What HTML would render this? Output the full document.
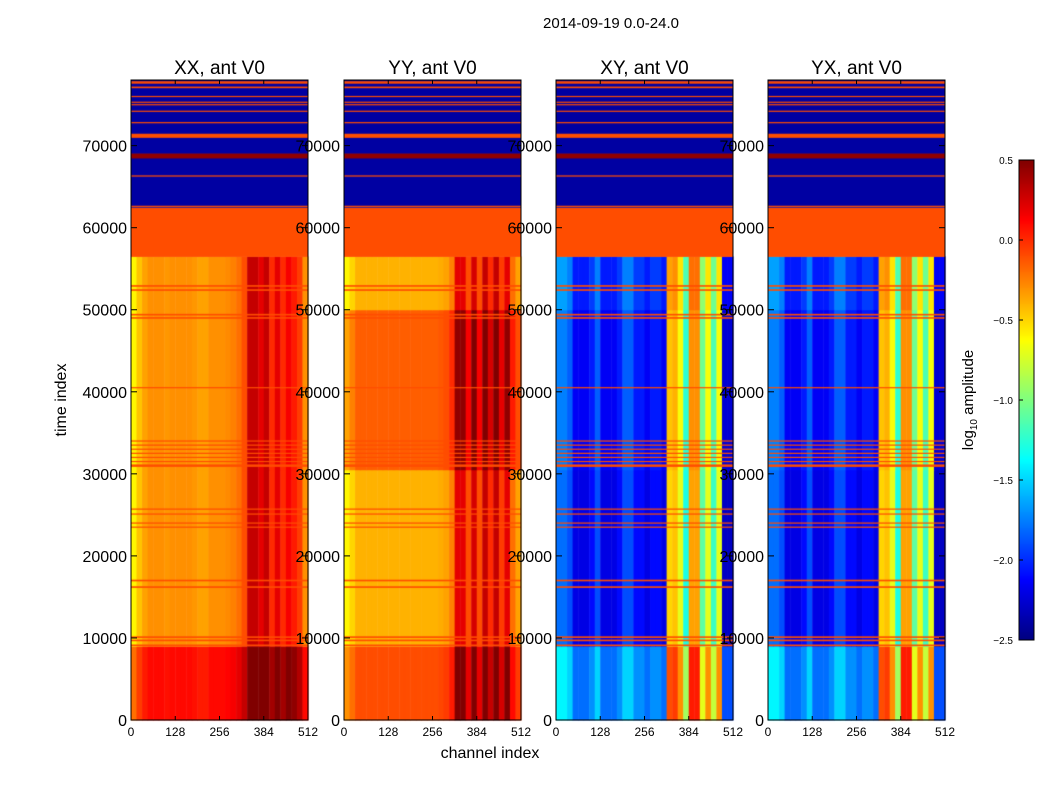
<!DOCTYPE html>
<html><head><meta charset="utf-8"><style>
body{margin:0;background:#fff;width:1050px;height:800px;overflow:hidden;font-family:"Liberation Sans",sans-serif}
#wrap{position:relative;width:1050px;height:800px}
canvas{position:absolute;left:0;top:0}
svg{position:absolute;left:0;top:0}
</style></head><body>
<div id="wrap">
<canvas id="cv" width="1050" height="800"></canvas>
<svg id="sv" width="1050" height="800"></svg>
</div>
<script>
// ---- data ----
const panelTitles = ["XX, ant V0","YY, ant V0","XY, ant V0","YX, ant V0"];
const xTickLabels = [0,128,256,384,512];
const yTickLabels = [0,10000,20000,30000,40000,50000,60000,70000];
const cbTickLabels = [-2.5,-2.0,-1.5,-1.0,-0.5,0.0,0.5];
// channel profiles, 32 bins of 16 channels (log10 amplitude)
const xxProfile = [-0.6,-0.45,-0.35,-0.3,-0.3,-0.3,-0.32,-0.3,-0.3,-0.3,-0.3,-0.32,-0.35,-0.35,-0.3,-0.3,-0.3,-0.28,-0.25,-0.2,-0.1,0.3,0.3,0.2,0.3,0.0,0.2,0.0,0.15,0.05,-0.05,-0.3];
const yyProfile = [-0.6,-0.5,-0.4,-0.4,-0.4,-0.4,-0.4,-0.4,-0.4,-0.4,-0.4,-0.4,-0.4,-0.4,-0.4,-0.4,-0.4,-0.38,-0.35,-0.25,0.2,0.2,-0.1,0.25,-0.1,0.3,0.0,0.3,-0.05,0.2,-0.2,-0.35];
const xyProfile = [-1.8,-1.8,-1.9,-2.2,-2.2,-2.2,-2.1,-1.9,-2.2,-2.2,-2.2,-2.1,-1.9,-1.9,-2.1,-2.1,-2.2,-2.1,-2.1,-2.2,-0.5,-0.45,-0.7,-1.3,-0.35,-0.35,-1.1,-0.7,-1.2,-0.7,-2.3,-2.3];
const yxProfile = [-1.8,-1.8,-1.9,-2.2,-2.2,-2.2,-2.1,-1.9,-2.2,-2.2,-2.2,-2.1,-1.9,-1.9,-2.1,-2.1,-2.2,-2.1,-2.1,-2.2,-0.5,-0.45,-0.7,-1.3,-0.35,-0.35,-1.1,-0.7,-1.2,-0.7,-2.3,-2.3];
// eras in lower (data) region
const eraStart = [0,9000,30500,50000];
const eraEnd = [9000,30500,50000,56500];
const xxEraOffset = [0.4,0,0.0,0];
const yyEraOffset = [0.3,0,0.25,0];
const xyEraOffset = [0.4,0,0.05,0.15];
const yxEraOffset = [0.4,0,0.05,0.15];
// uniform segments in upper region (same for all panels)
const segStart = [56500,62500,68500,69100];
const segEnd = [62500,68500,69100,78000];
const segValue = [-0.1,-2.4,0.45,-2.4];
// flagged rows drawn orange
const lineTime = [77700,77100,76000,75300,75000,74200,72800,71200,66300,62600,52900,52400,49400,49000,40500,34000,33500,33000,32500,32000,31500,31000,25700,25100,24000,23500,17000,16200,10100,9700,9100];
const lineWidth = [300,200,120,120,120,120,150,500,150,150,200,200,200,200,150,150,150,150,150,150,150,300,150,150,150,150,200,200,200,200,200];
const lineValue = -0.1;

const profiles=[xxProfile,yyProfile,xyProfile,yxProfile];
const eraOffsets=[xxEraOffset,yyEraOffset,xyEraOffset,yxEraOffset];
const panelX=[131,344,556,768], panelW=177, yTop=80, yBot=720, tMax=78000, cMax=512;
const yS=t=>yBot-(t/tMax)*(yBot-yTop);
const xS=(p,c)=>panelX[p]+c/cMax*panelW;
function jet(v){let t=(v+2.5)/3;t=Math.max(0,Math.min(1,t));
 const f=x=>Math.max(0,Math.min(1,1.5-Math.abs(4*t-x)));
 return `rgb(${Math.round(255*f(3))},${Math.round(255*f(2))},${Math.round(255*f(1))})`;}
const ctx=document.getElementById('cv').getContext('2d');
for(let p=0;p<4;p++){
 const prof=profiles[p], off=eraOffsets[p];
 for(let e=0;e<eraStart.length;e++){
  for(let b=0;b<prof.length;b++){
   ctx.fillStyle=jet(prof[b]+off[e]);
   const x0=xS(p,b*16),x1=xS(p,(b+1)*16);
   ctx.fillRect(x0,yS(eraEnd[e]),x1-x0+0.5,yS(eraStart[e])-yS(eraEnd[e])+0.5);
  }}
 for(let s=0;s<segStart.length;s++){
  ctx.fillStyle=jet(segValue[s]);
  ctx.fillRect(panelX[p],yS(segEnd[s]),panelW,yS(segStart[s])-yS(segEnd[s])+0.5);
 }
 for(let l=0;l<lineTime.length;l++){
  ctx.fillStyle=jet(lineValue);
  const y0=yS(lineTime[l]+lineWidth[l]/2),y1=yS(lineTime[l]-lineWidth[l]/2);
  ctx.fillRect(panelX[p],y0,panelW,Math.max(1.2,y1-y0));
 }
}
// colorbar
for(let i=0;i<480;i++){ctx.fillStyle=jet(0.5-3*(i+0.5)/480);ctx.fillRect(1019,160+i,15,1);}

const NS="http://www.w3.org/2000/svg", sv=document.getElementById('sv');
function mk(tag,attrs,txt){const e=document.createElementNS(NS,tag);for(const k in attrs)e.setAttribute(k,attrs[k]);if(txt!==undefined)e.textContent=txt;sv.appendChild(e);return e;}
let t=mk('text',{x:611,y:28,'font-size':15,'text-anchor':'middle'},'2014-09-19 0.0-24.0');


for(let p=0;p<4;p++){
 const r=mk('rect',{x:panelX[p],y:yTop,width:panelW,height:yBot-yTop,fill:'none',stroke:'#000','stroke-width':1});
 
 
 const ti=mk('text',{x:panelX[p]+panelW/2,y:74,'font-size':19,'text-anchor':'middle'},panelTitles[p]);
 
 
 xTickLabels.forEach(c=>{const x=xS(p,c);
  mk('line',{x1:x,x2:x,y1:yBot,y2:yBot-4,stroke:'#000'});mk('line',{x1:x,x2:x,y1:yTop,y2:yTop+4,stroke:'#000'});
  const tl=mk('text',{x:x,y:736,'font-size':12,'text-anchor':'middle'},c);
  
  });
 yTickLabels.forEach(v=>{const y=yS(v);
  mk('line',{x1:panelX[p],x2:panelX[p]+6,y1:y,y2:y,stroke:'#000'});mk('line',{x1:panelX[p]+panelW,x2:panelX[p]+panelW-6,y1:y,y2:y,stroke:'#000'});
  const yl=mk('text',{x:panelX[p]-4,y:y+6,'font-size':16,'text-anchor':'end'},v);
  
  });
}
t=mk('text',{x:66,y:400,'font-size':16,'text-anchor':'middle',transform:'rotate(-90 66 400)'},'time index');


t=mk('text',{x:490,y:758,'font-size':16,'text-anchor':'middle'},'channel index');


const cb=mk('rect',{x:1019,y:160,width:15,height:480,fill:'none',stroke:'#000'});


cbTickLabels.forEach(v=>{const y=640-(v+2.5)/3*480;
 mk('line',{x1:1019,x2:1023,y1:y,y2:y,stroke:'#000'});
 const l=mk('text',{x:1013,y:y+4,'font-size':10,'text-anchor':'end'},(v<0?'\u2212':'')+Math.abs(v).toFixed(1));
 
 });
t=mk('text',{x:973,y:400,'font-size':15,'text-anchor':'middle',transform:'rotate(-90 973 400)'});
t.innerHTML='log<tspan font-size="10" dy="4">10</tspan><tspan dy="-4"> amplitude</tspan>';


</script>
</body></html>
